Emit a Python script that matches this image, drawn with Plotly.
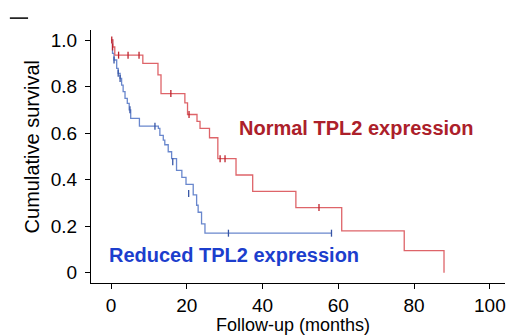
import plotly.graph_objects as go

# Kaplan-Meier step data (months, cumulative survival)
normal_time = [0, 0.5, 1, 8.4, 12.4, 13.2, 19.5, 20.2, 22.7, 23.5, 26, 28.2, 33, 37.4, 48.8, 60.9, 77.4, 87.9]
normal_surv = [1.0, 0.97, 0.935, 0.90, 0.85, 0.77, 0.73, 0.68, 0.65, 0.62, 0.58, 0.49, 0.42, 0.35, 0.28, 0.18, 0.095, 0.0]
normal_cens_time = [0.2, 0.4, 2.0, 4.5, 7.4, 15.8, 20.6, 28.8, 30.1, 54.9]
normal_cens_surv = [1.0, 0.97, 0.935, 0.935, 0.935, 0.77, 0.68, 0.49, 0.49, 0.28]

reduced_time = [0, 0.4, 0.8, 1.5, 1.9, 2.4, 2.8, 3.2, 3.7, 4.3, 4.8, 5.2, 7.5, 12.5, 12.9, 13.8, 14.2, 15.1, 16.0,
                17.3, 18.7, 19.8, 21.7, 22.6, 23.0, 23.9, 24.8, 58.2]
reduced_surv = [1.0, 0.943, 0.914, 0.878, 0.857, 0.835, 0.806, 0.778, 0.749, 0.728, 0.70, 0.663, 0.63, 0.62, 0.59,
                0.57, 0.55, 0.52, 0.49, 0.44, 0.41, 0.38, 0.335, 0.29, 0.26, 0.21, 0.17, 0.17]
reduced_cens_time = [0.8, 1.9, 2.4, 5.0, 11.6, 16.3, 20.5, 31.0, 58.2]
reduced_cens_surv = [0.914, 0.857, 0.835, 0.70, 0.63, 0.477, 0.341, 0.17, 0.17]

x_ticks = [0, 20, 40, 60, 80, 100]
y_ticks = [0, 0.2, 0.4, 0.6, 0.8, 1.0]
y_tick_text = ["0", "0.2", "0.4", "0.6", "0.8", "1.0"]
x_title = "Follow-up (months)"
y_title = "Cumulative survival"

RED_LINE = "rgb(222,100,105)"
BLUE_LINE = "rgb(105,135,205)"
RED_MARK = "rgb(190,35,45)"
BLUE_MARK = "rgb(55,85,165)"
RED_TEXT = "rgb(172,32,42)"
BLUE_TEXT = "rgb(28,62,205)"
FONT = "Liberation Sans, Arial, sans-serif"

fig = go.Figure()
fig.add_trace(go.Scatter(x=reduced_time, y=reduced_surv, mode="lines", line=dict(shape="hv", color=BLUE_LINE, width=1.3),
                         hoverinfo="skip", showlegend=False))
fig.add_trace(go.Scatter(x=reduced_cens_time, y=reduced_cens_surv, mode="markers",
                         marker=dict(symbol="line-ns-open", size=5, color=BLUE_MARK, line=dict(color=BLUE_MARK, width=1.3)),
                         showlegend=False))
fig.add_trace(go.Scatter(x=normal_time, y=normal_surv, mode="lines", line=dict(shape="hv", color=RED_LINE, width=1.3),
                         hoverinfo="skip", showlegend=False))
fig.add_trace(go.Scatter(x=normal_cens_time, y=normal_cens_surv, mode="markers",
                         marker=dict(symbol="line-ns-open", size=5, color=RED_MARK, line=dict(color=RED_MARK, width=1.3)),
                         showlegend=False))

fig.add_annotation(x=33.2, y=0.622, xref="x", yref="y", text="<b>Normal TPL2 expression</b>", showarrow=False,
                   xanchor="left", yanchor="middle", font=dict(family=FONT, size=20, color=RED_TEXT))
fig.add_annotation(x=-1.05, y=0.076, xref="x", yref="y", text="<b>Reduced TPL2 expression</b>", showarrow=False,
                   xanchor="left", yanchor="middle", font=dict(family=FONT, size=20, color=BLUE_TEXT))

# axis titles placed as annotations for exact positioning
fig.add_annotation(x=0.489, y=-0.165, xref="paper", yref="paper", text=x_title, showarrow=False,
                   xanchor="center", yanchor="middle", font=dict(family=FONT, size=18, color="black"))
fig.add_annotation(x=-0.1425, y=0.536, xref="paper", yref="paper", text=y_title, showarrow=False, textangle=-90,
                   xanchor="center", yanchor="middle", font=dict(family=FONT, size=20, color="black"))

fig.add_shape(type="line", xref="paper", yref="paper", x0=-0.196, x1=-0.152, y0=1.047, y1=1.047,
              line=dict(color="black", width=1.5))

fig.update_layout(
    width=508, height=335,
    margin=dict(l=91, r=3, t=30, b=52, autoexpand=False),
    paper_bgcolor="white", plot_bgcolor="white",
    font=dict(family=FONT, size=19, color="black"),
    xaxis=dict(range=[-5.28, 104.0], tickvals=x_ticks, ticks="outside", ticklen=5, tickcolor="black",
               showline=True, linecolor="black", linewidth=1.3, showgrid=False, zeroline=False, automargin=False,
               tickfont=dict(size=19)),
    yaxis=dict(range=[-0.044, 1.043], tickvals=y_ticks, ticktext=y_tick_text, ticks="outside", ticklen=5,
               tickcolor="black", showline=True, linecolor="black", linewidth=1.3, showgrid=False, zeroline=False,
               tickfont=dict(size=19), ticklabelstandoff=4, automargin=False),
)

fig.write_html("out.html", config={"displayModeBar": False},
               post_script="document.body.style.margin='0';document.body.style.padding='0';")
